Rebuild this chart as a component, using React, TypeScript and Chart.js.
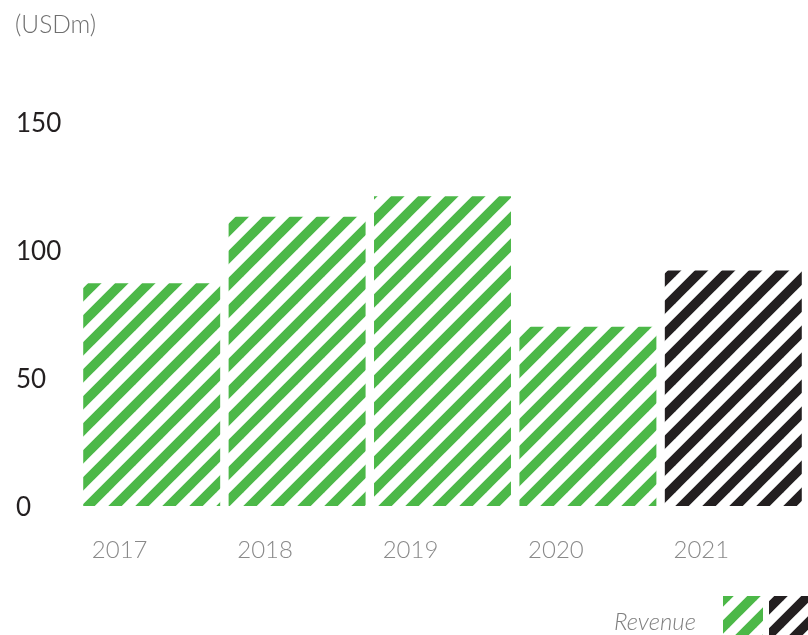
import React, { useEffect, useRef } from 'react';
import { Chart, registerables } from 'chart.js';

Chart.register(...registerables);

const categories = ['2017', '2018', '2019', '2020', '2021'];
const revenue = [87, 113, 121, 70, 92];
const yTicks = [0, 50, 100, 150];
const GREEN = '#4cb848';
const BLACK = '#231f20';
const barColors = [GREEN, GREEN, GREEN, GREEN, BLACK];
const unitLabel = '(USDm)';
const legendLabel = 'Revenue';

function makePattern(color: string): CanvasPattern | string {
  const size = 27;
  const c = document.createElement('canvas');
  c.width = size;
  c.height = size;
  const ctx = c.getContext('2d');
  if (!ctx) return color;
  ctx.strokeStyle = color;
  ctx.lineWidth = 9.5;
  for (const off of [-size, 0, size]) {
    ctx.beginPath();
    ctx.moveTo(off - size, 2 * size);
    ctx.lineTo(off + 2 * size, -size);
    ctx.stroke();
  }
  const p = ctx.createPattern(c, 'repeat');
  return p || color;
}

export default function App() {
  const ref = useRef<HTMLCanvasElement | null>(null);

  useEffect(() => {
    if (!ref.current) return;
    const greenPattern = makePattern(GREEN);
    const blackPattern = makePattern(BLACK);
    const patterns = barColors.map((c) => (c === GREEN ? greenPattern : blackPattern));

    const decor = {
      id: 'decor',
      afterDraw(chart: any) {
        const ctx = chart.ctx as CanvasRenderingContext2D;
        ctx.save();
        ctx.font = '300 24.5px Lato';
        ctx.fillStyle = '#6f6f6f';
        ctx.textAlign = 'left';
        ctx.textBaseline = 'alphabetic';
        ctx.fillText(unitLabel, 15, 33);
        ctx.font = 'italic 300 24px Lato';
        ctx.fillStyle = '#7f7f7f';
        ctx.textAlign = 'right';
        ctx.fillText(legendLabel, 696, 630);
        ctx.fillStyle = greenPattern as any;
        ctx.fillRect(723, 596, 40, 40);
        ctx.fillStyle = blackPattern as any;
        ctx.fillRect(769, 596, 40, 40);
        ctx.restore();
      },
    };

    const chart = new Chart(ref.current, {
      type: 'bar',
      data: {
        labels: categories,
        datasets: [
          {
            label: legendLabel,
            data: revenue,
            backgroundColor: patterns as any,
            borderWidth: 0,
            categoryPercentage: 1,
            barPercentage: 0.942,
          },
        ],
      },
      options: {
        animation: false,
        responsive: false,
        maintainAspectRatio: false,
        layout: { padding: { left: 16, right: 2, top: 122, bottom: 0 } },
        plugins: {
          legend: { display: false },
          tooltip: { enabled: false },
          title: { display: false },
        },
        scales: {
          x: {
            grid: { display: false, drawTicks: false },
            border: { display: false },
            ticks: {
              color: '#8a8a8a',
              font: { family: 'Lato', size: 24, weight: '300' },
              padding: 30,
              labelOffset: -32,
            },
            afterFit: (s: any) => {
              s.height = 129;
            },
          },
          y: {
            min: 0,
            max: 150,
            afterBuildTicks: (s: any) => {
              s.ticks = yTicks.map((v) => ({ value: v }));
            },
            grid: { display: false, drawTicks: false },
            border: { display: false },
            ticks: {
              color: BLACK,
              font: { family: 'Lato', size: 26 },
              crossAlign: 'far',
              padding: 0,
              labelOffset: 2,
            },
            afterFit: (s: any) => {
              s.width = 63;
            },
          },
        },
      },
      plugins: [decor],
    });
    return () => chart.destroy();
  }, []);

  return (
    <div style={{ position: 'fixed', left: 0, top: 0, width: 808, height: 635, background: '#fff' }}>
      <canvas ref={ref} width={808} height={635} style={{ display: 'block', width: 808, height: 635 }} />
    </div>
  );
}
